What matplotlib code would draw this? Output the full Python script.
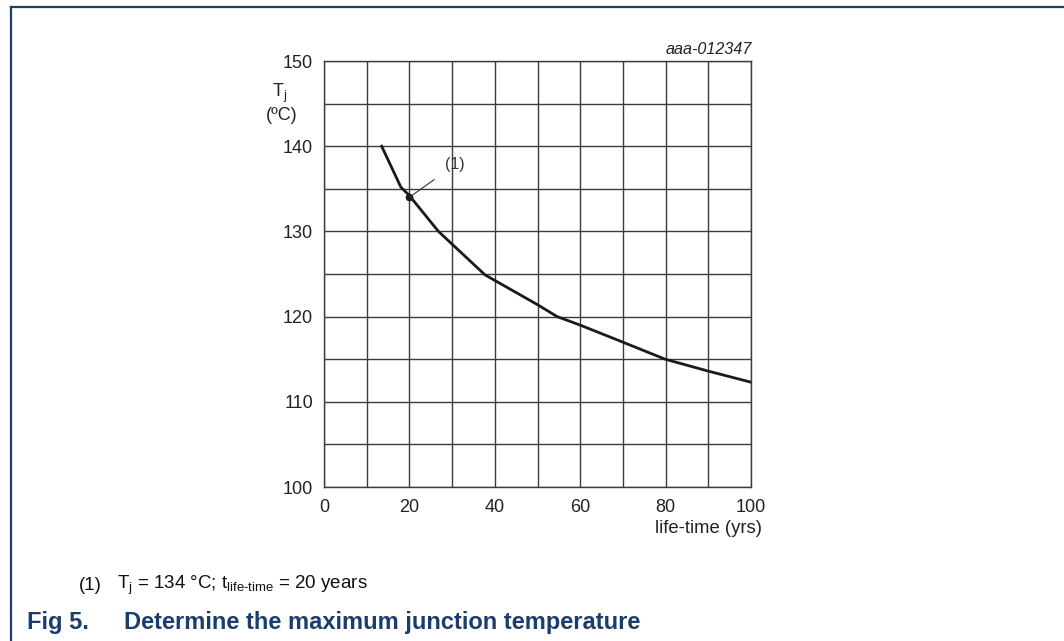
import matplotlib
matplotlib.use("Agg")
import matplotlib.pyplot as plt
import numpy as np

plt.rcParams['font.family'] = ['Liberation Sans', 'DejaVu Sans']
plt.rcParams['mathtext.fontset'] = 'custom'
plt.rcParams['mathtext.rm'] = 'Liberation Sans'
plt.rcParams['mathtext.it'] = 'Liberation Sans:italic'

# curve
life_time = [13.5, 18, 20, 26.8, 37.7, 50, 54.6, 60, 70, 79.9, 90, 100]
tj = [140.0, 135.2, 134.2, 130.0, 124.9, 121.4, 120.0, 119.0, 117.0, 115.0, 113.6, 112.3]

# marked point (1)
mark_x = [20]
mark_y = [134]

x_ticks = [0, 20, 40, 60, 80, 100]
y_ticks = [100, 110, 120, 130, 140, 150]

navy = '#1b3d6b'
grid_col = '#3c3c3c'
txt_col = '#222222'

fig = plt.figure(figsize=(10.64, 6.41), dpi=100)
ax = fig.add_axes([324 / 1064, 1 - 487 / 641, 427 / 1064, 426 / 641])

ax.plot(life_time, tj, color='#1a1a1a', lw=2.0, solid_joinstyle='miter')
ax.plot(mark_x, mark_y, 'o', color='#1a1a1a', ms=4.5)
ax.annotate('(1)', xy=(mark_x[0], mark_y[0]), xytext=(30.6, 137.8),
            fontsize=11.5, color='#333333', ha='center', va='center',
            arrowprops=dict(arrowstyle='-', color='#333333', lw=0.8,
                            shrinkA=7, shrinkB=1))

ax.set_xlim(0, 100)
ax.set_ylim(100, 150)
ax.set_xticks(x_ticks)
ax.set_yticks(y_ticks)
ax.set_xticks(np.arange(0, 101, 10), minor=True)
ax.set_yticks(np.arange(100, 151, 5), minor=True)
ax.tick_params(which='both', length=0, labelsize=13, colors=txt_col)
ax.tick_params(axis='y', pad=8)
ax.tick_params(axis='x', pad=9)
ax.grid(which='both', color=grid_col, lw=1.0)
for s in ax.spines.values():
    s.set_color(grid_col)
    s.set_linewidth(1.0)

ax.text(1.025, -0.097, 'life-time (yrs)', transform=ax.transAxes,
        ha='right', va='center', fontsize=13.3, color=txt_col)
fig.text(280 / 1064, 1 - 93 / 641, 'T$_\\mathregular{j}$', ha='center', va='center',
         fontsize=13, color=txt_col)
fig.text(281.5 / 1064, 1 - 116 / 641, '(ºC)', ha='center', va='center',
         fontsize=13, color=txt_col)
fig.text(752 / 1064, 1 - 50 / 641, 'aaa-012347', ha='right', va='center',
         fontsize=11.6, style='italic', color=txt_col)

# caption
fig.text(79 / 1064, 1 - 585 / 641, '(1)', ha='left', va='center', fontsize=13.5, color='#111111')
fig.text(117 / 1064, 1 - 585 / 641,
         'T$_\\mathregular{j}$ = 134 °C; t$_{\\text{life-time}}$ = 20 years',
         ha='left', va='center', fontsize=13.5, color='#111111')
fig.text(27 / 1064, 1 - 623 / 641, 'Fig 5.', ha='left', va='center', fontsize=17,
         fontweight='bold', color=navy)
fig.text(124 / 1064, 1 - 623 / 641, 'Determine the maximum junction temperature',
         ha='left', va='center', fontsize=17, fontweight='bold', color=navy)

# page frame
fig.add_artist(plt.Line2D([11 / 1064, 1], [1 - 7 / 641, 1 - 7 / 641], color=navy, lw=1.6))
fig.add_artist(plt.Line2D([11 / 1064, 11 / 1064], [0, 1 - 7 / 641], color=navy, lw=1.6))

fig.savefig('out.png', dpi=100)
